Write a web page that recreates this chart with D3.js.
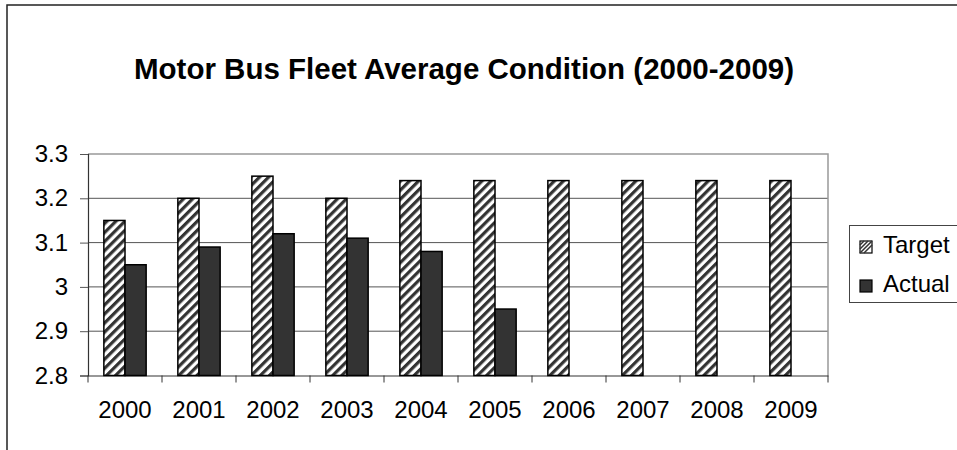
<!DOCTYPE html>
<html>
<head>
<meta charset="utf-8">
<script src="https://cdn.jsdelivr.net/npm/d3@7"></script>
<style>
  body { margin: 0; background: #fff; }
  text { font-family: "Liberation Sans", Arial, sans-serif; fill: #000; }
</style>
</head>
<body>
<script>
// chart values
var years = ["2000", "2001", "2002", "2003", "2004", "2005", "2006", "2007", "2008", "2009"];
var target = [3.15, 3.20, 3.25, 3.20, 3.24, 3.24, 3.24, 3.24, 3.24, 3.24];
var actual = [3.05, 3.09, 3.12, 3.11, 3.08, 2.95, null, null, null, null];
var yTicks = [2.8, 2.9, 3.0, 3.1, 3.2, 3.3];
var seriesNames = ["Target", "Actual"];

var width = 957, height = 450;
var plot = {left: 88, right: 828, top: 154, bottom: 375.5};

var svg = d3.select("body").append("svg")
    .attr("width", width)
    .attr("height", height);

// stripe pattern for the target bars
var defs = svg.append("defs");
defs.append("pattern")
    .attr("id", "stripes")
    .attr("patternUnits", "userSpaceOnUse")
    .attr("width", 6.4)
    .attr("height", 6.4)
    .attr("patternTransform", "rotate(45)")
  .call(function(p) {
    p.append("rect").attr("width", 6.4).attr("height", 6.4).attr("fill", "#fff");
    p.append("rect").attr("width", 3.2).attr("height", 6.4).attr("fill", "#333");
  });

// outer chart border
svg.append("rect")
    .attr("x", 7).attr("y", 5)
    .attr("width", 1000).attr("height", 500)
    .attr("fill", "none")
    .attr("stroke", "#222")
    .attr("stroke-width", 1.5);

svg.append("text")
    .attr("x", 464)
    .attr("y", 79)
    .attr("text-anchor", "middle")
    .style("font-size", "29.5px")
    .style("font-weight", "bold")
    .text("Motor Bus Fleet Average Condition (2000-2009)");

var x = d3.scaleBand()
    .domain(years)
    .range([plot.left, plot.right]);

var y = d3.scaleLinear()
    .domain([2.8, 3.3])
    .range([plot.bottom, plot.top]);

var g = svg.append("g");

// gridlines
g.selectAll(".grid")
    .data(yTicks.slice(1, -1))
  .enter().append("line")
    .attr("x1", plot.left).attr("x2", plot.right)
    .attr("y1", function(d) { return y(d); })
    .attr("y2", function(d) { return y(d); })
    .attr("stroke", "#555")
    .attr("stroke-width", 1);

// plot area top and right edges
g.append("path")
    .attr("d", "M" + plot.left + "," + y(3.3) + "H" + plot.right + "V" + plot.bottom)
    .attr("fill", "none")
    .attr("stroke", "#999")
    .attr("stroke-width", 1.5);

// y axis
var yAxis = g.append("g")
    .attr("transform", "translate(" + plot.left + ",0)")
    .call(d3.axisLeft(y).tickValues(yTicks).tickSize(8).tickPadding(12)
      .tickFormat(function(d) { return d3.format("")(+d.toFixed(1)); }));
yAxis.select(".domain").attr("stroke", "#333").attr("stroke-width", 1.2);
yAxis.selectAll("line").attr("stroke", "#555");
yAxis.selectAll("text").style("font-size", "24px").attr("fill", "#000");

// x axis
var xAxis = g.append("g")
    .attr("transform", "translate(0," + plot.bottom + ")")
    .call(d3.axisBottom(x).tickSize(0).tickPadding(25));
xAxis.select(".domain").attr("stroke", "#333").attr("stroke-width", 1.2);
xAxis.selectAll("text").style("font-size", "24px").attr("fill", "#000");

// category separator ticks
g.selectAll(".xtick")
    .data(years.concat(["end"]))
  .enter().append("line")
    .attr("x1", function(d, i) { return plot.left + i * x.bandwidth(); })
    .attr("x2", function(d, i) { return plot.left + i * x.bandwidth(); })
    .attr("y1", plot.bottom)
    .attr("y2", plot.bottom + 7)
    .attr("stroke", "#333");

// bars
var barW = x.bandwidth() / 3.5;
var gap = barW * 0.75;

g.selectAll(".target")
    .data(target)
  .enter().append("rect")
    .attr("x", function(d, i) { return x(years[i]) + gap; })
    .attr("y", function(d) { return y(d); })
    .attr("width", barW)
    .attr("height", function(d) { return plot.bottom - y(d); })
    .attr("fill", "url(#stripes)")
    .attr("stroke", "#000")
    .attr("stroke-width", 1.5);

g.selectAll(".actual")
    .data(actual)
  .enter().filter(function(d) { return d != null; }).append("rect")
    .attr("x", function(d, i) { return x(years[i]) + gap + barW; })
    .attr("y", function(d) { return y(d); })
    .attr("width", barW)
    .attr("height", function(d) { return plot.bottom - y(d); })
    .attr("fill", "#333")
    .attr("stroke", "#000")
    .attr("stroke-width", 1.5);

// legend
var legend = svg.append("g");
legend.append("rect")
    .attr("x", 849.5).attr("y", 225.5)
    .attr("width", 200).attr("height", 77)
    .attr("fill", "#fff")
    .attr("stroke", "#444");

var items = legend.selectAll(".item")
    .data(seriesNames)
  .enter().append("g")
    .attr("transform", function(d, i) { return "translate(860," + (241 + i * 39) + ")"; });

items.append("rect")
    .attr("width", 12).attr("height", 12)
    .attr("fill", function(d, i) { return i == 0 ? "#fff" : "#333"; })
    .attr("stroke", "#000")
    .attr("stroke-width", 1.2);

items.filter(function(d, i) { return i == 0; }).append("path")
    .attr("d", "M0,12L12,0M0,8L8,0M0,4L4,0M4,12L12,4")
    .attr("stroke", "#333")
    .attr("stroke-width", 1.5);

items.append("text")
    .attr("x", 23)
    .attr("y", 12)
    .style("font-size", "24px")
    .text(function(d) { return d; });
</script>
</body>
</html>
